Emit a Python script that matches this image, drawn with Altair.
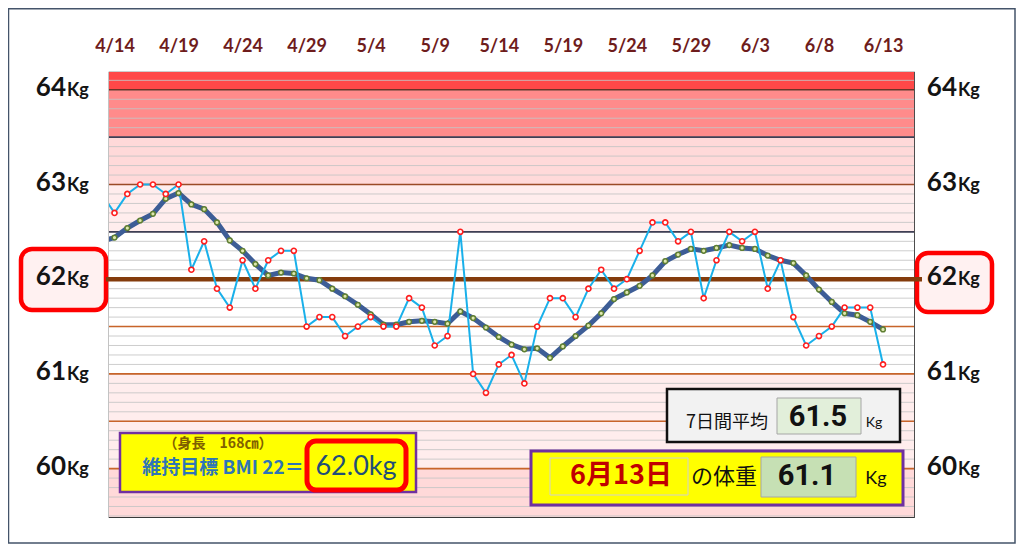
import altair as alt
import pandas as pd

# ---------------- data ----------------
first_day = "2024-04-13"   # first value is the (clipped) day before 4/14
daily = [62.9, 62.7, 62.9, 63.0, 63.0, 62.9, 63.0, 62.1, 62.4, 61.9, 61.7,
         62.2, 61.9, 62.2, 62.3, 62.3, 61.5, 61.6, 61.6, 61.4, 61.5, 61.6,
         61.5, 61.5, 61.8, 61.7, 61.3, 61.4, 62.5, 61.0, 60.8, 61.1, 61.2,
         60.9, 61.5, 61.8, 61.8, 61.6, 61.9, 62.1, 61.9, 62.0, 62.3, 62.6,
         62.6, 62.4, 62.5, 61.8, 62.2, 62.5, 62.4, 62.5, 61.9, 62.2, 61.6,
         61.3, 61.4, 61.5, 61.7, 61.7, 61.7, 61.1]
avg7 = [62.40, 62.44, 62.54, 62.62, 62.69, 62.85, 62.91, 62.79, 62.74, 62.60,
        62.41, 62.30, 62.16, 62.04, 62.07, 62.06, 62.01, 61.99, 61.90, 61.82,
        61.73, 61.63, 61.52, 61.52, 61.55, 61.56, 61.55, 61.53, 61.66, 61.59,
        61.49, 61.39, 61.31, 61.26, 61.27, 61.17, 61.29, 61.40, 61.51, 61.64,
        61.79, 61.86, 61.93, 62.04, 62.19, 62.26, 62.32, 62.30, 62.33, 62.36,
        62.33, 62.32, 62.25, 62.20, 62.17, 62.04, 61.89, 61.76, 61.64, 61.62,
        61.55, 61.47]
y_label_values = [60, 61, 62, 63, 64]

band_lo = [59.40, 60.0, 61.0, 62.5, 63.0, 63.5, 64.0]
band_hi = [60.00, 61.0, 62.5, 63.0, 63.5, 64.0, 64.3]
band_color = ["#ffd9d9", "#ffeded", "#ffffff", "#ffeded", "#ffd9d9", "#ff8b8b", "#ff4848"]

ref_y = [60.0, 60.5, 61.0, 61.5, 62.5, 63.0, 63.5, 64.0]
ref_color = ["#c8642a", "#c8642a", "#c8642a", "#c8642a", "#3f3f55", "#9a4a26", "#3f3f55", "#6b3326"]

target_line = 62.0
last_label = "6月13日"
last_value = "61.1"
avg_value = "61.5"

# ---------------- frames ----------------
dates = pd.date_range(first_day, periods=len(daily), freq="D")
df = pd.DataFrame({"date": dates.strftime("%Y-%m-%d"), "daily": daily, "avg": avg7})
df_pts = df.iloc[1:]

day_ms = 86400000
t0 = int(pd.Timestamp("2024-04-14", tz="UTC").value // 10**6)
t_end = int(pd.Timestamp("2024-06-13", tz="UTC").value // 10**6)
x_domain = [t0 - int(0.43 * day_ms), t_end + int(2.42 * day_ms)]
tick_vals = [t0 + 5 * k * day_ms for k in range(13)]

bands = pd.DataFrame({"lo": band_lo, "hi": band_hi, "c": band_color})
grid = pd.DataFrame({"g": [round(59.5 + 0.1 * i, 1) for i in range(47)]})
refs = pd.DataFrame({"r": ref_y, "c": ref_color})
ylab = pd.DataFrame({"v": y_label_values, "n": [str(v) for v in y_label_values]})
one = pd.DataFrame({"a": [0]})

W, H = 805, 445
OX, OY = 109, 72   # page position of plot area

ys = alt.Scale(domain=[59.489, 64.188], nice=False, zero=False)
X = alt.X("date:T",
          scale=alt.Scale(type="utc", domain=x_domain),
          axis=alt.Axis(orient="top", values=tick_vals, format="%-m/%-d",
                        labelColor="#6e1c1c", labelFont="Lato", labelFontSize=18,
                        labelFontWeight="bold", labelPadding=17, ticks=False,
                        domain=False, grid=False, title=None, labelAngle=0,
                        labelOverlap=False))

JP = "Noto Sans CJK JP"
NARROW = "Liberation Sans Narrow, Roboto, sans-serif"


def box(x1, y1, x2, y2, fill, stroke, sw, r=0):
    return alt.Chart(one).mark_rect(fill=fill, stroke=stroke, strokeWidth=sw,
                                    cornerRadius=r).encode(
        x=alt.value(x1 - OX), x2=alt.value(x2 - OX),
        y=alt.value(y1 - OY), y2=alt.value(y2 - OY))


def txt(s, x, y, size, color, weight="bold", font=JP, align="center"):
    return alt.Chart(pd.DataFrame({"t": [s]})).mark_text(
        font=font, fontSize=size, fontWeight=weight, color=color, align=align,
        baseline="middle").encode(text="t:N", x=alt.value(x - OX), y=alt.value(y - OY))


band_layer = alt.Chart(bands).mark_rect(clip=True).encode(
    x=alt.value(0), x2=alt.value(W),
    y=alt.Y("lo:Q", scale=ys, axis=None), y2="hi:Q",
    fill=alt.Color("c:N", scale=None))

grid_layer = alt.Chart(grid).mark_rule(color="#c4c4c4", strokeWidth=1, opacity=0.85).encode(
    y=alt.Y("g:Q", scale=ys, axis=None))

ref_layer = alt.Chart(refs).mark_rule(strokeWidth=1.6).encode(
    y=alt.Y("r:Q", scale=ys, axis=None), color=alt.Color("c:N", scale=None))

# 62 kg label boxes
box_l = box(21, 249, 106, 310, "#fff1f1", "#ff0000", 4.5, 11)
box_r = box(917, 253, 992, 312, "#fff1f1", "#ff0000", 4.5, 11)

target_layer = alt.Chart(pd.DataFrame({"t": [target_line]})).mark_rule(
    color="#843c0c", strokeWidth=4.5).encode(
    x=alt.value(106 - OX), x2=alt.value(922 - OX),
    y=alt.Y("t:Q", scale=ys, axis=None))

avg_line = alt.Chart(df).mark_line(color="#3d5d96", strokeWidth=5, clip=True).encode(
    x=X, y=alt.Y("avg:Q", scale=ys, axis=None))
daily_line = alt.Chart(df).mark_line(color="#19b0ea", strokeWidth=2, clip=True).encode(
    x=X, y=alt.Y("daily:Q", scale=ys, axis=None))
avg_pts = alt.Chart(df_pts).mark_point(shape="circle", filled=False, fill="#dfe8b0",
                                       stroke="#5f7f32", strokeWidth=1.5, size=22,
                                       opacity=1).encode(
    x=X, y=alt.Y("avg:Q", scale=ys, axis=None))
daily_pts = alt.Chart(df_pts).mark_point(shape="circle", filled=False, fill="#ffffff",
                                         stroke="#ff1e1e", strokeWidth=1.6, size=26,
                                         opacity=1).encode(
    x=X, y=alt.Y("daily:Q", scale=ys, axis=None))

# y labels (left and right)
def ylabels(xb):
    num = alt.Chart(ylab).mark_text(font="Lato", fontSize=26, fontWeight="bold",
                                    color="#141414", align="right", baseline="alphabetic",
                                    dy=6).encode(
        x=alt.value(xb - OX), y=alt.Y("v:Q", scale=ys, axis=None), text="n:N")
    kg = alt.Chart(ylab).mark_text(font="Lato", fontSize=18, fontWeight="bold",
                                   color="#141414", align="left", baseline="alphabetic",
                                   dy=6, text="Kg").encode(
        x=alt.value(xb - OX + 1), y=alt.Y("v:Q", scale=ys, axis=None))
    return [num, kg]


# BMI box
bmi = [
    box(120, 433, 416, 492, "#ffff00", "#7030a0", 2.5),
    txt("（身長　168㎝）", 218, 444, 14, "#7f6000"),
    txt("維持目標 BMI 22＝", 223, 468, 19, "#2e75b6"),
    box(307, 441, 406, 490, "#ffff00", "#ff0000", 5, 9),
    txt("62.0kg", 356, 467, 27, "#1f4e79", weight="normal", font="Lato"),
]

# 7-day average box
avgbox = [
    box(667, 389, 900, 442, "#f2f2f2", "#111111", 2.5),
    txt("7日間平均", 727, 423, 18, "#111111", weight="normal"),
    box(777, 398, 861, 434, "#e2efda", "#a6a6a6", 1),
    txt(avg_value, 818, 417, 29, "#111111", font=NARROW),
    txt("Kg", 874, 423, 14, "#111111", weight="normal", font="Lato"),
]

# today's weight box
todaybox = [
    box(531, 451, 903, 505, "#ffff00", "#7030a0", 3),
    box(550, 458, 688, 495, "#ffff00", "#d0d0d0", 1),
    txt(last_label, 621, 476, 27, "#c00000"),
    txt("の体重", 724, 477, 22, "#111111", weight="normal"),
    box(761, 457, 856, 497, "#c6e0b4", "#a6a6a6", 1),
    txt(last_value, 807, 476, 29, "#111111", font=NARROW),
    txt("Kg", 876, 479, 18, "#111111", weight="normal", font="Lato"),
]

frame = box(8.5, 8.75, 1015, 543, "transparent", "#44546a", 1.5)

layers = ([band_layer, grid_layer, ref_layer, box_l, box_r, target_layer,
           avg_line, daily_line, avg_pts, daily_pts]
          + ylabels(66) + ylabels(957) + bmi + avgbox + todaybox + [frame])

chart = alt.layer(*layers).properties(
    width=W, height=H,
    padding={"left": OX - 8, "top": OY - 8, "right": 1016 - OX - W, "bottom": 544 - OY - H},
    autosize=alt.AutoSizeParams(type="none"),
    background="#ffffff",
).configure_view(stroke="#3a3a3a", strokeWidth=1.2)

chart.save("out.html", embed_options={"renderer": "svg", "actions": False})
